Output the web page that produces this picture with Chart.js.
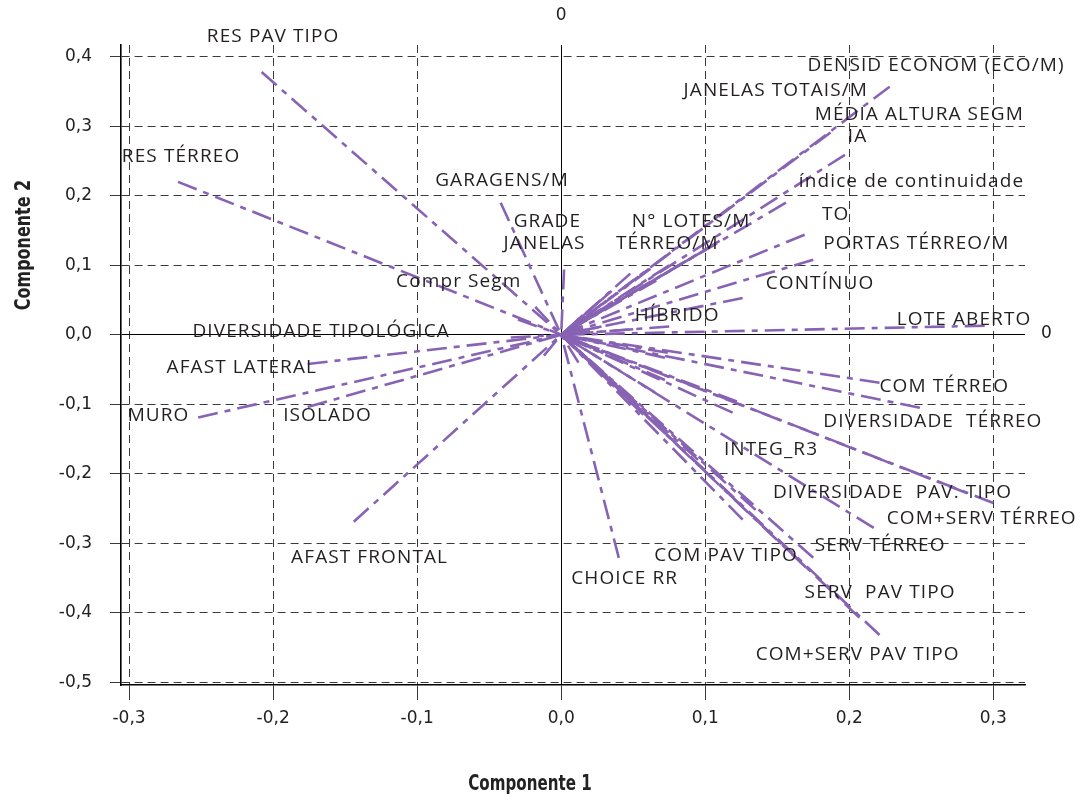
<!DOCTYPE html>
<html>
<head>
<meta charset="utf-8">
<script src="https://cdn.jsdelivr.net/npm/chart.js@4.4.1/dist/chart.umd.min.js"></script>
<style>
  html, body { margin: 0; padding: 0; background: #fff; }
  #wrap { width: 1085px; height: 802px; }
</style>
</head>
<body>
<div id="wrap"><canvas id="pcaChart" width="1085" height="802"></canvas></div>
<script>
// loadings: one line from the origin to each (comp1, comp2)
const comp1Loadings = [
  -0.208, -0.266, -0.042, 0.002, -0.030, -0.018, -0.035,
  -0.176, -0.252, -0.176, -0.144, -0.012,
  0.040, 0.221, 0.249, 0.300, 0.282, 0.217, 0.175, 0.170, 0.207, 0.221,
  0.074, 0.072, 0.072, 0.065, 0.049, 0.057, 0.033, 0.019, 0.026, 0.122, 0.119, 0.095, 0.070, 0.135, 0.126, 0.012,
  0.228, 0.187, 0.197, 0.156, 0.169, 0.175, 0.126, 0.294,
  0.110, 0.100, 0.090, 0.075, 0.062, 0.066, 0.048, 0.035, 0.025, 0.022, 0.075, 0.050, 0.028, 0.015, 0.020
];
const comp2Loadings = [
  0.378, 0.220, 0.190, 0.094, 0.022, 0.040, -0.004,
  -0.042, -0.119, -0.104, -0.269, -0.030,
  -0.321, -0.069, -0.105, -0.242, -0.228, -0.278, -0.321, -0.335, -0.407, -0.432,
  -0.026, -0.033, -0.065, -0.083, -0.098, -0.115, -0.065, -0.036, -0.022, -0.096, -0.112, -0.180, -0.137, -0.252, -0.266, -0.040,
  0.357, 0.291, 0.259, 0.190, 0.144, 0.108, 0.053, 0.013,
  0.135, 0.122, 0.110, 0.100, 0.095, 0.078, 0.088, 0.063, 0.045, 0.032, 0.012, 0.008, 0.012, 0.028, 0.005
];

// variable names, anchored (left edge, middle) at a point in component space
const varLabels = [
  'RES PAV TIPO', 'RES TÉRREO', 'GARAGENS/M', 'GRADE', 'JANELAS', 'Compr Segm',
  'DIVERSIDADE TIPOLÓGICA', 'AFAST LATERAL', 'MURO', 'ISOLADO', 'AFAST FRONTAL',
  'CHOICE RR', 'COM PAV TIPO', 'SERV TÉRREO', 'SERV  PAV TIPO', 'COM+SERV PAV TIPO',
  'COM+SERV TÉRREO', 'DIVERSIDADE  PAV. TIPO', 'INTEG_R3', 'DIVERSIDADE  TÉRREO', 'COM TÉRREO',
  'LOTE ABERTO', 'HÍBRIDO', 'CONTÍNUO', 'PORTAS TÉRREO/M', 'TO', 'N° LOTES/M', 'TÉRREO/M',
  'índice de continuidade', 'IA', 'MÉDIA ALTURA SEGM', 'JANELAS TOTAIS/M', 'DENSID ECONOM (ECO/M)'
];
const labelComp1 = [
  -0.246, -0.305, -0.0875, -0.033, -0.040, -0.1146,
  -0.256, -0.274, -0.301, -0.193, -0.1875,
  0.007, 0.0646, 0.176, 0.169, 0.135,
  0.226, 0.147, 0.113, 0.182, 0.221,
  0.233, 0.051, 0.142, 0.182, 0.181, 0.049, 0.038,
  0.165, 0.199, 0.176, 0.085, 0.171
];
const labelComp2 = [
  0.429, 0.256, 0.2216, 0.163, 0.131, 0.076,
  0.004, -0.047, -0.117, -0.117, -0.321,
  -0.351, -0.318, -0.304, -0.371, -0.460,
  -0.265, -0.227, -0.165, -0.125, -0.075,
  0.022, 0.027, 0.073, 0.131, 0.173, 0.163, 0.131,
  0.220, 0.285, 0.317, 0.351, 0.388
];

const xTickVals = [-0.3, -0.2, -0.1, 0.0, 0.1, 0.2, 0.3];
const yTickVals = [0.4, 0.3, 0.2, 0.1, 0.0, -0.1, -0.2, -0.3, -0.4, -0.5];
const xTitle = 'Componente 1';
const yTitle = 'Componente 2';

const purple = '#8862b3';
const tickFont = '"DejaVu Sans", sans-serif';
const labelFont = '"Open Sans", "Noto Sans", sans-serif';

const fmt = v => v.toFixed(1).replace('.', ',').replace('-0,0', '0,0');

const datasets = comp1Loadings.map((x, i) => ({
  data: [{x: x, y: comp2Loadings[i]}, {x: 0, y: 0}],
  borderColor: purple,
  borderWidth: 2.6,
  borderDash: [20, 7, 6, 7],
  pointRadius: 0,
  fill: false,
  tension: 0
}));

const textPlugin = {
  id: 'textPlugin',
  afterDatasetsDraw(chart) {
    const ctx = chart.ctx;
    const xs = chart.scales.x, ys = chart.scales.y;
    const area = chart.chartArea;
    ctx.save();
    // variable names
    ctx.fillStyle = '#231f20';
    ctx.font = '19px ' + labelFont;
    ctx.letterSpacing = '1.1px';
    ctx.textAlign = 'left';
    ctx.textBaseline = 'middle';
    varLabels.forEach((t, i) => {
      ctx.fillText(t, xs.getPixelForValue(labelComp1[i]), ys.getPixelForValue(labelComp2[i]));
    });
    ctx.letterSpacing = '0px';
    // "0" at the ends of the origin lines
    ctx.fillStyle = '#222';
    ctx.font = '17px ' + tickFont;
    ctx.textAlign = 'center';
    ctx.fillText('0', xs.getPixelForValue(0), area.top - 29);
    ctx.textAlign = 'left';
    ctx.fillText('0', area.right + 16, ys.getPixelForValue(0) - 1);
    // axis titles (narrowed to look like a condensed face)
    ctx.font = 'bold 21px ' + tickFont;
    ctx.textAlign = 'center';
    ctx.save();
    ctx.translate(530, 785);
    ctx.scale(0.72, 1);
    ctx.fillText(xTitle, 0, 0);
    ctx.restore();
    ctx.translate(25, 245);
    ctx.rotate(-Math.PI / 2);
    ctx.scale(0.76, 1);
    ctx.fillText(yTitle, 0, 0);
    ctx.restore();
  }
};

const gridColor = c => c.tick && Math.abs(c.tick.value) < 1e-9 ? '#000' : '#3a3a3a';
const gridDash = c => c.tick && Math.abs(c.tick.value) < 1e-9 ? [] : [8, 5];

new Chart(document.getElementById('pcaChart'), {
  type: 'line',
  data: { datasets },
  options: {
    responsive: false,
    animation: false,
    layout: { padding: { top: 45, right: 60, bottom: 0, left: 0 } },
    plugins: { legend: { display: false }, tooltip: { enabled: false } },
    scales: {
      x: {
        type: 'linear',
        min: -0.3056,
        max: 0.322,
        afterBuildTicks: s => { s.ticks = xTickVals.map(v => ({value: v})); },
        afterFit: s => { s.height = 117; },
        ticks: { callback: v => fmt(v), color: '#222', font: { family: tickFont, size: 17, style: 'condensed' }, padding: 8, maxRotation: 0 },
        grid: { color: gridColor, lineWidth: 1, tickLength: 15, tickColor: '#3a3a3a' },
        border: { display: true, color: '#000', width: 1.6, dash: gridDash }
      },
      y: {
        type: 'linear',
        min: -0.504,
        max: 0.417,
        afterBuildTicks: s => { s.ticks = yTickVals.map(v => ({value: v})); },
        afterFit: s => { s.width = 121; },
        ticks: { callback: v => fmt(v), color: '#222', font: { family: tickFont, size: 17, style: 'condensed' }, padding: 18 },
        grid: { color: gridColor, lineWidth: 1, tickLength: 11, tickColor: '#3a3a3a' },
        border: { display: true, color: '#000', width: 1.6, dash: gridDash }
      }
    }
  },
  plugins: [textPlugin]
});
</script>
</body>
</html>
